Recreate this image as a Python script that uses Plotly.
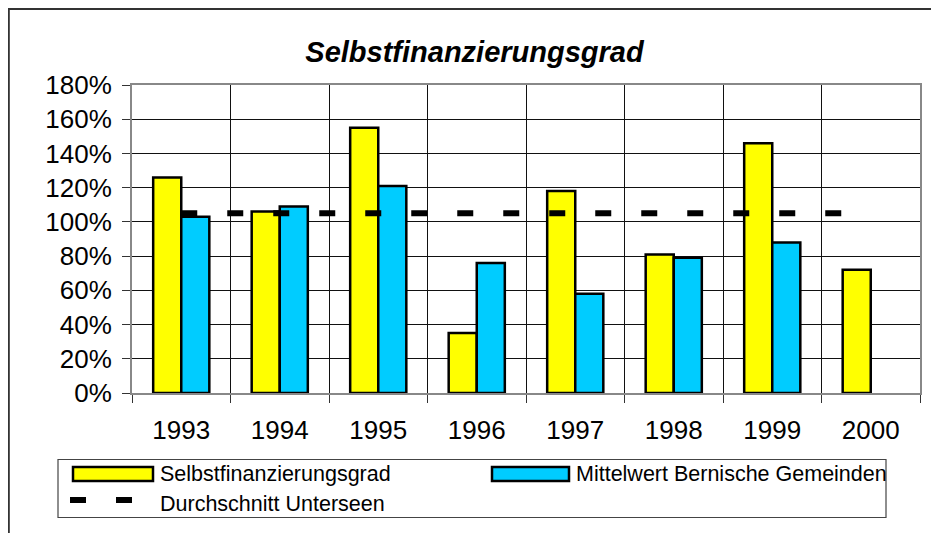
import plotly.graph_objects as go

years = ["1993", "1994", "1995", "1996", "1997", "1998", "1999", "2000"]
selbstfinanzierung = [126, 106, 155, 35, 118, 81, 146, 72]
mittelwert_bern = [103, 109, 121, 76, 58, 79, 88, None]
durchschnitt_unterseen = [105, 105, 105, 105, 105, 105, 105, 105]
y_ticks = [0, 20, 40, 60, 80, 100, 120, 140, 160, 180]
y_tick_labels = ["0%", "20%", "40%", "60%", "80%", "100%", "120%", "140%", "160%", "180%"]

# the page body has an 8px margin, so the figure starts at page pixel (8, 8)
OFF = 8
W, H = 939 - OFF, 533 - OFF
ML, MR, MT, MB = 132 - OFF, 19, 85 - OFF, 140
PW, PH = W - ML - MR, H - MT - MB

def px(x):
    # x given in page pixels
    return (x - OFF - ML) / PW

def py(y):
    # y given in page pixels
    return (H - MB - (y - OFF)) / PH

FONT = "Liberation Sans, Arial, sans-serif"

fig = go.Figure()
fig.add_trace(go.Bar(
    x=years, y=selbstfinanzierung, name="Selbstfinanzierungsgrad",
    marker=dict(color="#FFFF00", line=dict(color="#000000", width=2.5)),
))
fig.add_trace(go.Bar(
    x=years, y=mittelwert_bern, name="Mittelwert Bernische Gemeinden",
    marker=dict(color="#00CCFF", line=dict(color="#000000", width=2.5)),
))
fig.add_trace(go.Scatter(
    x=years, y=durchschnitt_unterseen, name="Durchschnitt Unterseen",
    mode="lines", line=dict(color="#000000", width=6, dash="16px,30px"),
))

shapes = []
# outer chart frame (extends beyond the visible page on right/bottom)
shapes.append(dict(type="rect", xref="paper", yref="paper",
                   x0=px(8.8), x1=px(960), y0=py(9), y1=py(560),
                   line=dict(color="#333333", width=2), layer="below"))
# legend box
shapes.append(dict(type="rect", xref="paper", yref="paper",
                   x0=px(58), x1=px(886), y0=py(459.5), y1=py(517.5),
                   line=dict(color="#444444", width=1.2)))
# legend symbols
shapes.append(dict(type="rect", xref="paper", yref="paper",
                   x0=px(73), x1=px(153), y0=py(467), y1=py(481),
                   fillcolor="#FFFF00", line=dict(color="#000000", width=2.5)))
shapes.append(dict(type="rect", xref="paper", yref="paper",
                   x0=px(492), x1=px(569), y0=py(467), y1=py(481),
                   fillcolor="#00CCFF", line=dict(color="#000000", width=2.5)))
shapes.append(dict(type="line", xref="paper", yref="paper",
                   x0=px(70), x1=px(132), y0=py(500), y1=py(500),
                   line=dict(color="#000000", width=6, dash="16px,30px")))

annotations = [
    dict(text="Selbstfinanzierungsgrad", xref="paper", yref="paper",
         x=px(158), y=py(474), xanchor="left", yanchor="middle", showarrow=False,
         font=dict(family=FONT, size=21.5, color="#000000")),
    dict(text="Durchschnitt Unterseen", xref="paper", yref="paper",
         x=px(158), y=py(504), xanchor="left", yanchor="middle", showarrow=False,
         font=dict(family=FONT, size=21.5, color="#000000")),
    dict(text="Mittelwert Bernische Gemeinden", xref="paper", yref="paper",
         x=px(574), y=py(474), xanchor="left", yanchor="middle", showarrow=False,
         font=dict(family=FONT, size=21.5, color="#000000")),
]

fig.update_layout(
    width=W, height=H,
    margin=dict(l=ML, r=MR, t=MT, b=MB, pad=0),
    paper_bgcolor="#FFFFFF", plot_bgcolor="#FFFFFF",
    barmode="group", bargap=0.43, bargroupgap=0,
    showlegend=False,
    font=dict(family=FONT, color="#000000"),
    title=dict(text="<b><i>Selbstfinanzierungsgrad</i></b>",
               x=(474.5 - OFF) / W, xref="container", xanchor="center",
               y=1 - (52 - OFF) / H, yref="container", yanchor="middle",
               font=dict(family=FONT, size=29, color="#000000")),
    shapes=shapes, annotations=annotations,
)
fig.update_xaxes(
    type="category", tickson="boundaries",
    showgrid=True, gridcolor="#111111", gridwidth=1,
    showline=True, linecolor="#888888", linewidth=2, mirror=True,
    ticks="outside", ticklen=8, tickcolor="#333333", tickwidth=1,
    tickfont=dict(family=FONT, size=26, color="#000000"),
    ticklabelstandoff=13,
)
fig.update_yaxes(
    range=[0, 180], tickmode="array", tickvals=y_ticks, ticktext=y_tick_labels,
    showgrid=True, gridcolor="#111111", gridwidth=1,
    showline=True, linecolor="#888888", linewidth=2, mirror=True,
    ticks="outside", ticklen=8, tickcolor="#333333", tickwidth=1,
    tickfont=dict(family=FONT, size=26, color="#000000"),
    ticklabelstandoff=5, zeroline=False,
)

fig.write_html("out.html")
